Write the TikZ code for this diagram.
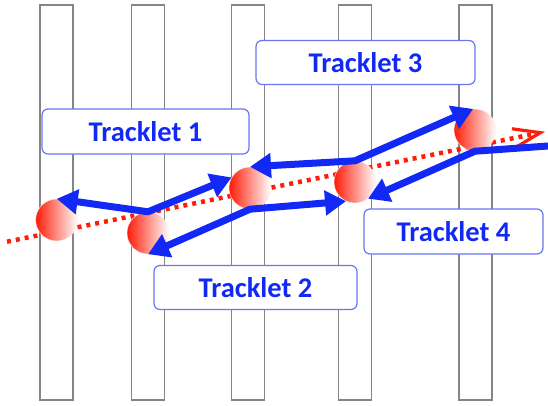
\documentclass[tikz,border=0pt]{standalone}
\usepackage{fontspec}
\setsansfont{Carlito}
\usetikzlibrary{arrows.meta}

\definecolor{trkblue}{RGB}{18,40,245}
\definecolor{hitred}{RGB}{255,28,8}
\definecolor{boxline}{RGB}{105,118,240}

\tikzset{
  plane/.style={draw=black!48, line width=1.1pt},
  hit/.style={circle, minimum size=42pt, inner sep=0pt, left color=hitred, right color=white, draw=black!5, line width=0.4pt},
  tbox/.style={draw=boxline, fill=white, rounded corners=6pt, line width=1.2pt, text=trkblue, font=\sffamily\bfseries\fontsize{28.5}{34}\selectfont},
  seg/.style={draw=trkblue, line width=7pt, line join=round},
  tip/.tip={Triangle[length=21pt,width=24pt]},
  truth/.style={draw=hitred, line width=4.5pt, dash pattern=on 4pt off 5pt, -{Straight Barb[length=27pt,width=19pt,line width=3.2pt]}}
}

\begin{document}
\begin{tikzpicture}[x=1pt,y=-1pt]
\useasboundingbox (0,0) rectangle (548,405);

%detector planes
\foreach \px in {40,131.7,231.7,338.3,459}
  \draw[plane] (\px,5) rectangle (\px+33,400);

%labels
\node[tbox, minimum width=207pt, minimum height=45pt] (t1) at (145.5,131.5) {Tracklet 1};
\node[tbox, minimum width=203pt, minimum height=44pt] (t2) at (255.5,287.5) {Tracklet 2};
\node[tbox, minimum width=219pt, minimum height=44pt] (t3) at (365.5,62.5) {Tracklet 3};
\node[tbox, minimum width=179pt, minimum height=45pt] (t4) at (453.5,231.5) {Tracklet 4};

%true track
\coordinate (in) at (7,241.7);
\coordinate (out) at (545,131.7);
\draw[truth] (in) -- (out);

%hits
\node[hit] (h1) at (56.7,220) {};
\node[hit] (h2) at (148,233) {};
\node[hit] (h3) at (250,188) {};
\node[hit] (h4) at (355,182) {};
\node[hit] (h5) at (475,130) {};

%tracklets
\coordinate (exit) at (548,146);
\draw[seg, tip-tip] (h1.north) -- (h2.north) -- (h3.150);
\draw[seg, tip-tip] (h2.south) -- (h3.south) -- (h4.245);
\draw[seg, tip-tip] (h3.north) -- (h4.north) -- (h5.95);
\draw[seg, tip-] (h4.308) -- (h5.south) -- (exit);

\end{tikzpicture}
\end{document}
